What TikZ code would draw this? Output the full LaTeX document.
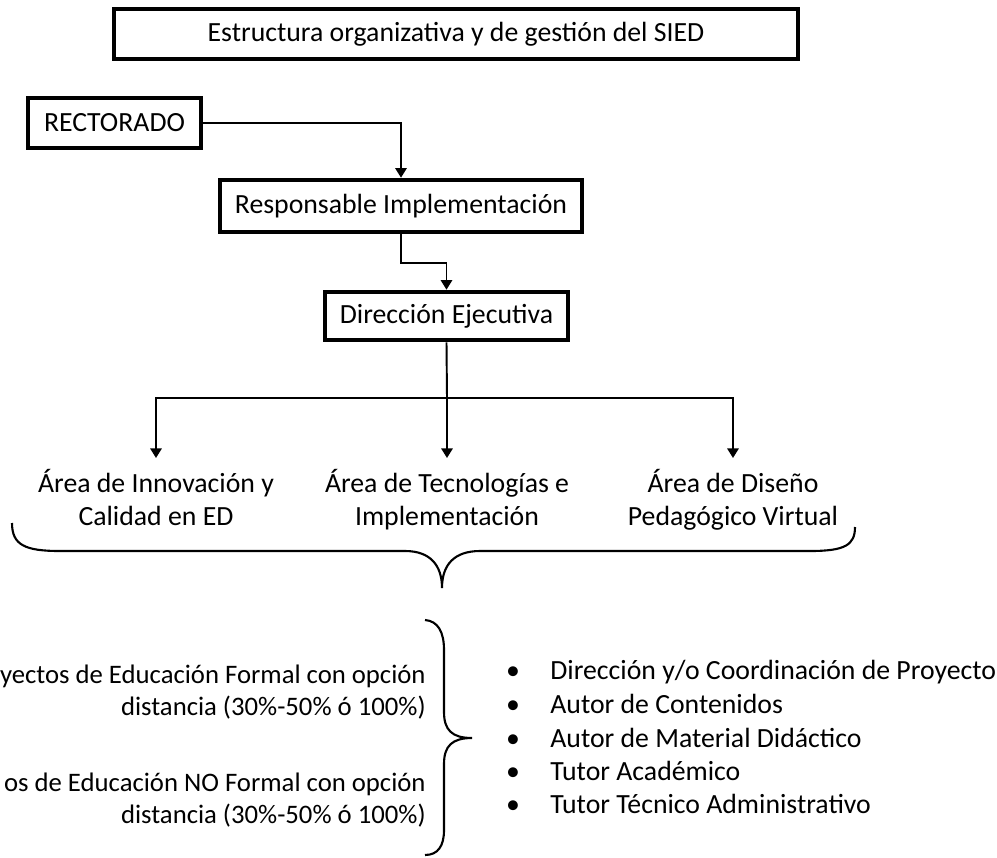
\documentclass[tikz,border=0pt]{standalone}
\usepackage{fontspec}
\setmainfont{Carlito}
\usepackage{tikz}
\usetikzlibrary{positioning, arrows.meta}

\begin{document}
\begin{tikzpicture}[>={Triangle[length=5.5pt,width=6.5pt]},
    txt/.style={font=\fontsize{15.8}{18.5}\selectfont, inner sep=0pt},
    box/.style={txt, draw, line width=2.6pt, minimum height=1cm},
    area/.style={txt, align=center, inner ysep=6.5pt, anchor=north},
    side/.style={txt, font=\fontsize{15.2}{18}\selectfont, align=right, anchor=east},
    link/.style={line width=1.1pt}]
          \useasboundingbox (0,0) rectangle (19.94,-17.14);

          \node[box, minimum width=13.68cm] (titulo) at (9.12,-0.68) {Estructura organizativa y de gestión del SIED};
          \node[box, minimum width=3.46cm] (rect) at (2.29,-2.46) {RECTORADO};
          \node[box, minimum width=7.24cm, minimum height=1.04cm] (resp) at (8.02,-4.12) {Responsable Implementación};
          \node[box, minimum width=4.86cm, minimum height=0.96cm] (dir) at (8.93,-6.32) {Dirección Ejecutiva};

          \coordinate (split) at (8.94,-7.96);
          \node[area] (innov) at (3.12,-9.16) {Área de Innovación y\\Calidad en ED};
          \node[area] (tecno) at (8.94,-9.16) {Área de Tecnologías e\\Implementación};
          \node[area] (disen) at (14.66,-9.16) {Área de Diseño\\Pedagógico Virtual};

          \draw[->, link] (rect.east) -| (resp.north);
          \draw[->, link] (resp.south) -- ++(0,-0.58) -| (dir.north);
          \draw[link] (dir.south) -- (split);
          \draw[->, link] (split) -| (innov.north);
          \draw[->, link] (split) -- (tecno.north);
          \draw[->, link] (split) -| (disen.north);

          \draw[line width=1.2pt] (0.24,-10.46) .. controls (0.24,-10.9) and (0.5,-11.02) .. (1.2,-11.02) -- (8.1,-11.02)
            .. controls (8.6,-11.02) and (8.84,-11.3) .. (8.84,-11.76)
            .. controls (8.84,-11.3) and (9.08,-11.02) .. (9.6,-11.02) -- (16.2,-11.02)
            .. controls (16.9,-11.02) and (17.1,-10.9) .. (17.1,-10.54);

          \node[side] (formal) at (8.52,-13.84) {yectos de Educación Formal con opción\\distancia (30\%-50\% ó 100\%)};
          \node[side] (noformal) at (8.52,-16.0) {os de Educación NO Formal con opción\\distancia (30\%-50\% ó 100\%)};

          \draw[line width=1.2pt] (8.5,-12.4) .. controls (8.76,-12.42) and (8.88,-12.64) .. (8.88,-13.0) -- (8.88,-14.24)
            .. controls (8.88,-14.6) and (9.04,-14.76) .. (9.44,-14.76)
            .. controls (9.04,-14.76) and (8.88,-14.92) .. (8.88,-15.28) -- (8.88,-16.6)
            .. controls (8.88,-16.92) and (8.76,-17.1) .. (8.5,-17.1);

          \foreach \i/\y/\t in {1/-13.58/{Dirección y/o Coordinación de Proyecto},
                                2/-14.26/{Autor de Contenidos},
                                3/-14.94/{Autor de Material Didáctico},
                                4/-15.60/{Tutor Académico},
                                5/-16.26/{Tutor Técnico Administrativo}} {
            \node[txt, anchor=base] (bul\i) at (10.26,\y) {\textbullet};
            \node[txt, anchor=base west] (rol\i) at (11.0,\y) {\t};
          }
        \end{tikzpicture}
\end{document}
